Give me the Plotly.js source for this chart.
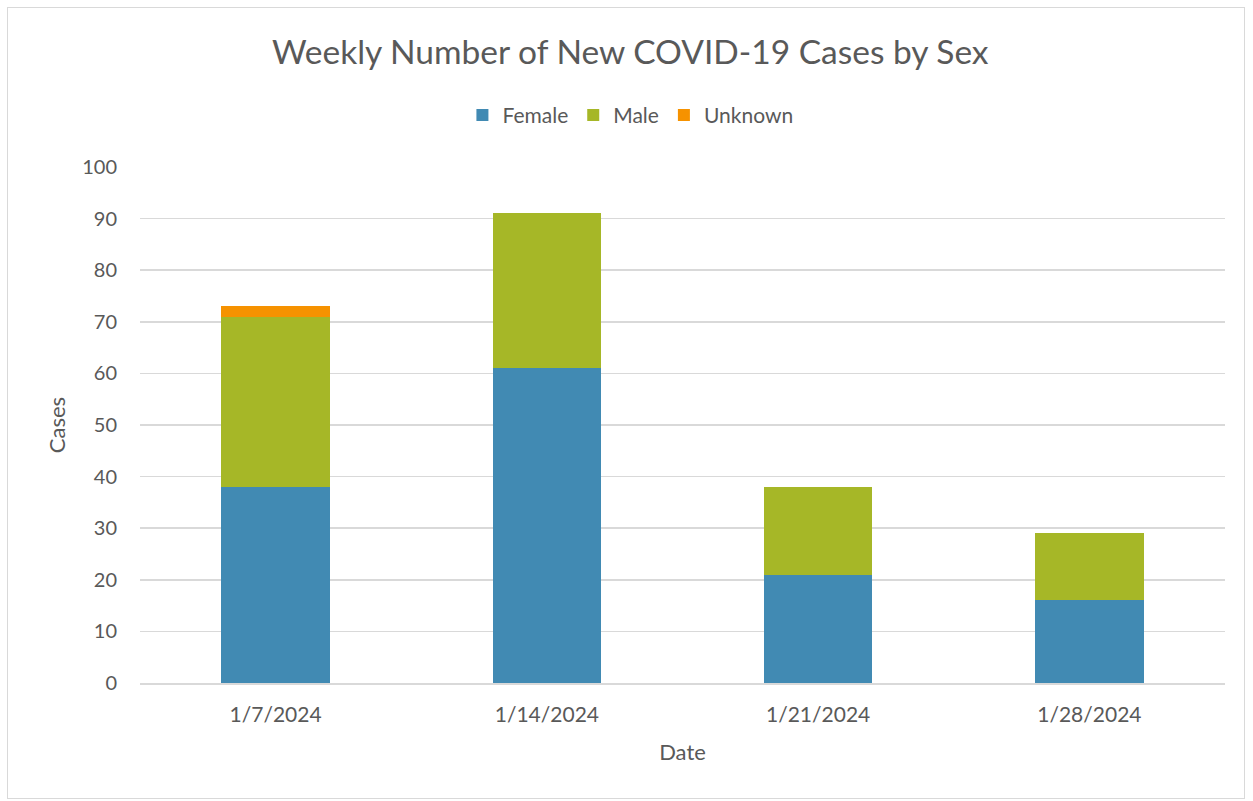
<!DOCTYPE html>
<html>
<head>
<meta charset="utf-8">
<script src="https://cdn.plot.ly/plotly-3.0.1.min.js"></script>
<style>
  html, body { margin: 0; padding: 0; background: #fff; }
  #frame { position: absolute; left: 7px; top: 7px; width: 1238px; height: 792px; border: 1px solid #d9d9d9; box-sizing: border-box; pointer-events: none; z-index: 5; }
  #chart { position: absolute; left: 0; top: 0; width: 1253px; height: 801px; }
</style>
</head>
<body>
<div id="chart"></div>
<div id="frame"></div>
<script>
const dates = ["1/7/2024", "1/14/2024", "1/21/2024", "1/28/2024"];
const female = [38, 61, 21, 16];
const male = [33, 30, 17, 13];
const unknown = [2, 0, 0, 0];

const font = "Lato, 'Open Sans', sans-serif";
const grey = "#595959";

const traces = [
  { type: "bar", name: "Female", x: dates, y: female, marker: { color: "#418AB3" } },
  { type: "bar", name: "Male", x: dates, y: male, marker: { color: "#A6B727" } },
  { type: "bar", name: "Unknown", x: dates, y: unknown, marker: { color: "#F69200" } }
];

const layout = {
  width: 1253, height: 801,
  barmode: "stack",
  bargap: 0.6,
  paper_bgcolor: "#fff",
  plot_bgcolor: "#fff",
  margin: { l: 140, r: 28, t: 167, b: 118 },
  font: { family: font, color: grey, size: 20 },
  title: { text: "Weekly Number of New COVID-19 Cases by Sex", x: 0.503, xanchor: "center", y: 0.935, yanchor: "middle", font: { family: font, size: 33.5, color: grey } },
  showlegend: true,
  legend: { orientation: "h", x: 0.452, xanchor: "center", y: 1.1, yanchor: "middle", font: { family: font, size: 21, color: grey }, traceorder: "normal", itemwidth: 30 },
  xaxis: {
    type: "category",
    title: { text: "Date", font: { family: font, size: 22, color: grey }, standoff: 19 },
    tickfont: { family: font, size: 21, color: grey },
    ticklabelstandoff: 12,
    showline: true, linecolor: "#d9d9d9", linewidth: 2,
    ticks: "", showgrid: false
  },
  yaxis: {
    range: [0, 100], dtick: 10,
    title: { text: "Cases", font: { family: font, size: 22, color: grey }, standoff: 10 },
    tickfont: { family: font, size: 20, color: grey },
    ticklabelstandoff: 22,
    gridcolor: "#d9d9d9", gridwidth: 1.5,
    zeroline: false, ticks: "", showline: false
  }
};

Plotly.newPlot("chart", traces, layout, { displayModeBar: false, staticPlot: true });
</script>
</body>
</html>
